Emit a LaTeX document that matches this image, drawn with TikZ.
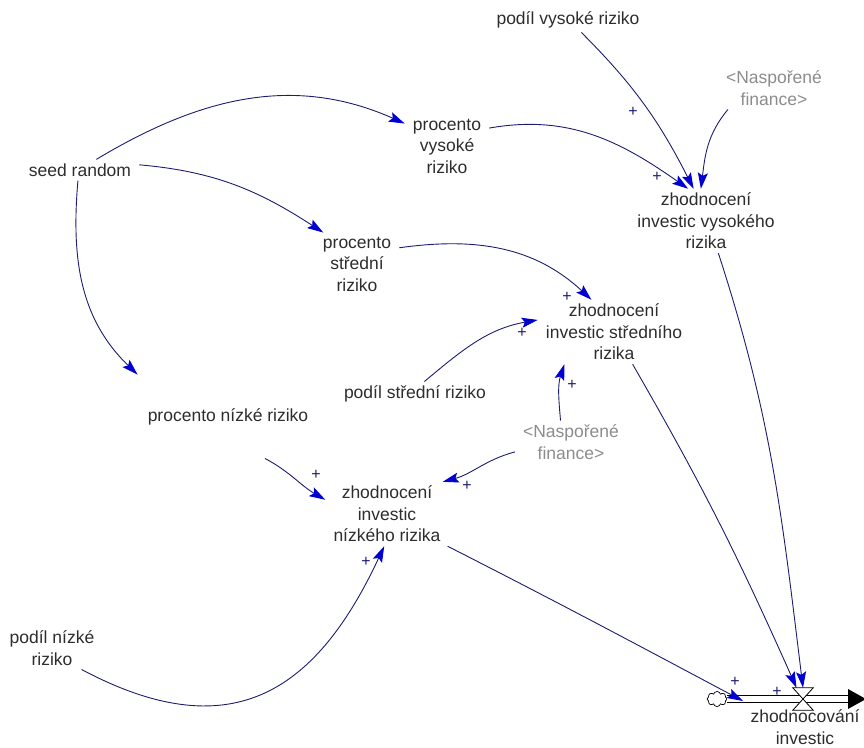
\documentclass[tikz,border=0pt]{standalone}
\usepackage{fontspec}
\setmainfont{Liberation Sans}
\usetikzlibrary{arrows.meta,shapes.symbols}
\definecolor{linkblue}{RGB}{28,28,112}
\definecolor{tipblue}{RGB}{0,0,210}
\definecolor{textgray}{RGB}{45,45,45}
\definecolor{shadowgray}{RGB}{140,140,140}

\begin{document}
\begin{tikzpicture}[x=1pt,y=1pt,
  var/.style={align=center,text=textgray,inner xsep=8pt,inner ysep=4pt,font=\fontsize{17.5}{21.5}\selectfont},
  ghost/.style={var,text=shadowgray},
  link/.style={draw=linkblue,line width=0.9pt,-{Stealth[length=16pt,width=10pt,inset=3pt,color=tipblue]}},
  pol/.style={text=linkblue,inner sep=0pt,font=\fontsize{16}{16}\selectfont}]
\useasboundingbox (0,0) rectangle (864,-747);

% variables
\node[var] (seed) at (80,-170) {seed random};
\node[var] (pvr) at (568,-20) {podíl vysoké riziko};
\node[ghost] (nfa) at (774,-88) {<Naspořené\\finance>};
\node[var] (pvys) at (447,-146) {procento\\vysoké\\riziko};
\node[var] (zvys) at (706,-221) {zhodnocení\\investic vysokého\\rizika};
\node[var] (pstr) at (357,-264) {procento\\střední\\riziko};
\node[var] (zstr) at (614,-332) {zhodnocení\\investic středního\\rizika};
\node[var] (psr) at (415,-394) {podíl střední riziko};
\node[var] (pniz) at (228,-417) {procento nízké riziko};
\node[ghost] (nfb) at (571,-442) {<Naspořené\\finance>};
\node[var] (zniz) at (387,-514) {zhodnocení\\investic\\nízkého rizika};
\node[var] (pnr) at (52,-648) {podíl nízké\\riziko};

% flow
\node[cloud,draw=black,cloud puffs=8,minimum width=20pt,minimum height=15pt,inner sep=0pt,line width=0.7pt] (src) at (717,-699) {};
\coordinate (sink) at (848,-699);
\coordinate (inflow) at (743,-701);
\draw[black,line width=0.8pt,double=white,double distance=6pt] (src.east) -- (sink);
\fill[black] (sink) ++(0,10) -- ++(18,-10) -- ++(-18,-10) -- cycle;
\node[minimum width=20pt,minimum height=22pt,inner sep=0pt] (valve) at (803,-699) {};
\draw[black,fill=white,line width=0.8pt] (valve.north west) -- (valve.north east) -- (valve.south west) -- (valve.south east) -- cycle;
\node[var] (flow) at (805,-727) {zhodnocování\\investic};

% links
\draw[link] (seed.33) to[out=31,in=156] (pvys.152);
\draw[link] (seed.5) to[out=-5,in=147] (pstr.137);
\draw[link] (seed.-101) to[out=-95,in=136] ([shift={(-2,30)}]pniz.north west);
\draw[link] (pvys.23) to[out=10,in=145] (zvys.119);
\draw[link] (pvr.-43) to[out=-45,in=117] (zvys.111);
\draw[link] (nfa.-155) to[out=-130,in=83] (zvys.99);
\draw[link] (pstr.21) to[out=8,in=137] (zstr.125);
\draw[link] (psr.53) to[out=40,in=190] (zstr.171);
\draw[link] (nfb.116) to[out=95,in=-108] (zstr.-147);
\draw[link] (nfb.-170) to[out=195,in=15] (zniz.30);
\draw[link] ([shift={(37,-29)}]pniz.south) to[out=-28,in=150] (zniz.167);
\draw[link] (pnr.-36) to[out=-28,in=-115,looseness=1.3] (zniz.-95);
\draw[link] (zniz.-28) to[out=-27,in=152] (inflow);
\draw[link] (zstr.-60) to[out=-60,in=114] (valve.120);
\draw[link] (zvys.-69) to[out=-72,in=97] (valve.north);

% polarities
\foreach \px/\py [count=\i] in {633/112,657/177,567/297,522/333,572/385,467/486,316/475,366/562,735/682,777/692}
  \node[pol] (plus\i) at (\px,-\py) {+};
\end{tikzpicture}
\end{document}
